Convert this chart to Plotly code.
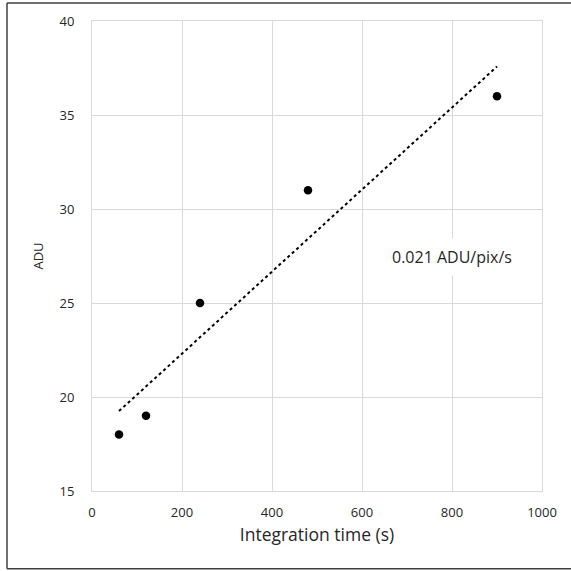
import plotly.graph_objects as go

# Data
integration_time = [60, 120, 240, 480, 900]
adu = [18, 19, 25, 31, 36]

# Linear trendline endpoints (as drawn)
trend_x = [60, 900]
trend_y = [19.25, 37.58]

x_ticks = [0, 200, 400, 600, 800, 1000]
y_ticks = [15, 20, 25, 30, 35, 40]
annotation_text = "0.021 ADU/pix/s"

FONT = "'Open Sans', sans-serif"
TXT = "#262626"
GRID = "#d9d9d9"

fig = go.Figure()
fig.add_trace(go.Scatter(
    x=trend_x, y=trend_y, mode="lines",
    line=dict(color="black", width=2, dash="dot"),
    showlegend=False, hoverinfo="skip"))
fig.add_trace(go.Scatter(
    x=integration_time, y=adu, mode="markers",
    marker=dict(color="black", size=8.5),
    showlegend=False))

L, R, T, B = 92, 29, 19, 80
W = H = 571
pw, ph = W - L - R, H - T - B

bx0 = (7 - L) / pw
bx1 = (600 - L) / pw
by0 = -(569 - (H - B)) / ph
by1 = 1 + (T - 1) / ph
border = dict(color="#404040", width=1.5)

fig.update_layout(
    width=W, height=H,
    margin=dict(l=L, r=R, t=T, b=B),
    paper_bgcolor="white", plot_bgcolor="white",
    font=dict(family=FONT, color=TXT, size=12),
    xaxis=dict(range=[0, 1000], tickvals=x_ticks, showgrid=True, gridcolor=GRID,
               gridwidth=1, zeroline=False, showline=True, linecolor=GRID, mirror=True,
               ticks="", ticklabelstandoff=9, tickfont=dict(size=13, color=TXT),
               title=dict(text="Integration time (s)", font=dict(size=17.5, color=TXT), standoff=9)),
    yaxis=dict(range=[15, 40], tickvals=y_ticks, showgrid=True, gridcolor=GRID,
               gridwidth=1, zeroline=False, showline=True, linecolor=GRID, mirror=True,
               ticks="", ticklabelstandoff=14, tickfont=dict(size=13, color=TXT),
               title=dict(text="ADU", font=dict(size=13, color=TXT), standoff=12)),
    annotations=[dict(x=800, y=27.45, xref="x", yref="y", text=annotation_text,
                      showarrow=False, font=dict(size=16, color=TXT, family=FONT),
                      bgcolor="white", borderpad=7)],
    shapes=[
        dict(type="line", xref="paper", yref="paper", x0=bx0, x1=bx0, y0=by0, y1=by1, line=border, layer="above"),
        dict(type="line", xref="paper", yref="paper", x0=bx0, x1=bx1, y0=by1, y1=by1, line=border, layer="above"),
        dict(type="line", xref="paper", yref="paper", x0=bx0, x1=bx1, y0=by0, y1=by0, line=border, layer="above"),
    ],
)

fig.write_html("out.html")
